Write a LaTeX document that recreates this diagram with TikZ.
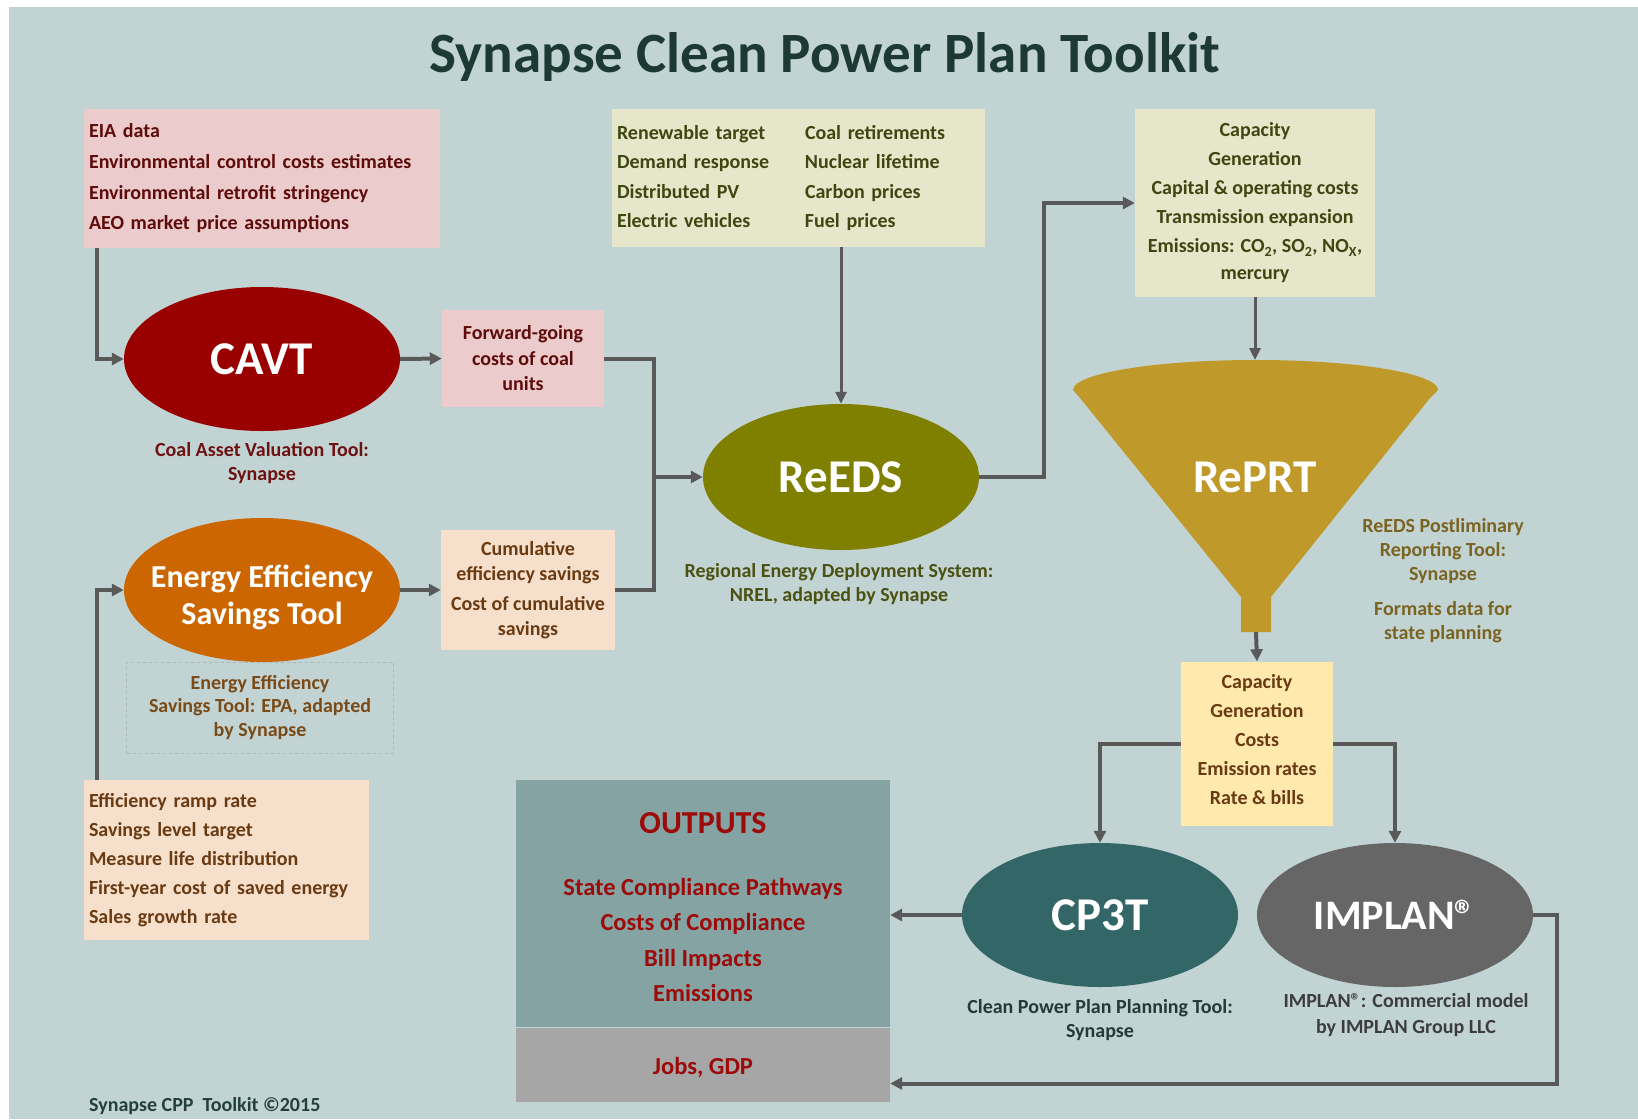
\documentclass[tikz,border=0pt]{standalone}
\usepackage{fontspec}
\setmainfont{Carlito}
\usetikzlibrary{shapes.geometric,arrows.meta}

\definecolor{bgcol}{HTML}{C2D3D3}
\definecolor{linegray}{HTML}{595959}
\definecolor{dashgray}{HTML}{A9B9B9}
\definecolor{pinkbox}{HTML}{EBCBCB}
\definecolor{peachbox}{HTML}{F6E0CB}
\definecolor{creambox}{HTML}{E6E6CB}
\definecolor{yellowbox}{HTML}{FFE9AD}
\definecolor{outteal}{HTML}{85A3A3}
\definecolor{outgray}{HTML}{A6A6A6}
\definecolor{cavtred}{HTML}{990000}
\definecolor{eeorange}{HTML}{CC6600}
\definecolor{reedsolive}{HTML}{808000}
\definecolor{funnelgold}{HTML}{BF9A2A}
\definecolor{cptteal}{HTML}{336666}
\definecolor{implangray}{HTML}{666666}
\definecolor{titlecol}{HTML}{1D3934}
\definecolor{maroontext}{HTML}{5E0B0B}
\definecolor{cavtcap}{HTML}{6E1111}
\definecolor{olivetext}{HTML}{3F4711}
\definecolor{browntext}{HTML}{6A3A12}
\definecolor{eecap}{HTML}{7A4A17}
\definecolor{reedscap}{HTML}{4B5112}
\definecolor{reprtcap}{HTML}{7A6422}
\definecolor{outred}{HTML}{9C0A0A}
\definecolor{cptcap}{HTML}{263838}
\definecolor{implancap}{HTML}{3C3C3C}
\definecolor{footcol}{HTML}{24403C}

\tikzset{
  flow/.style={draw=linegray, line width=4pt, -{Triangle[length=12pt,width=12pt]}},
  thinflow/.style={draw=linegray, line width=3pt, -{Triangle[length=12pt,width=11pt]}},
  link/.style={draw=linegray, line width=4pt},
  inbox/.style={rectangle, inner sep=5pt, align=center, font=\bfseries\fontsize{20}{29}\selectfont},
  tool/.style={ellipse, inner sep=0pt, minimum width=276pt, minimum height=144pt, text=white, font=\bfseries\fontsize{47}{50}\selectfont},
  caption/.style={align=center, inner sep=0pt, font=\bfseries\fontsize{20}{24}\selectfont}
}

\begin{document}
\begin{tikzpicture}[x=1pt,y=-1pt]
\useasboundingbox (0,0) rectangle (1638,1119);
\fill[white] (0,0) rectangle (1638,1119);
\fill[bgcol] (9,7) rectangle (1638,1119);

\node[font=\bfseries\fontsize{57}{60}\selectfont, text=titlecol, anchor=base] (title) at (825,72) {Synapse Clean Power Plan Toolkit};

% input boxes
\node[inbox, fill=pinkbox, text=maroontext, minimum height=139pt, text width=346pt, align=left, font=\bfseries\fontsize{20}{30.7}\selectfont] (eia) at (262,178.5) {EIA data\\Environmental control costs estimates\\Environmental retrofit stringency\\AEO market price assumptions};
\node[inbox, fill=pinkbox, text=maroontext, minimum width=162pt, minimum height=97pt, font=\bfseries\fontsize{20}{25.5}\selectfont] (fwd) at (523,358.5) {Forward-going\\costs of coal\\units};
\node[inbox, fill=peachbox, text=browntext, minimum width=174pt, minimum height=120pt, font=\bfseries\fontsize{20}{25}\selectfont] (cum) at (528,590) {Cumulative\\efficiency savings\\[5pt]Cost of cumulative\\savings};
\node[inbox, fill=peachbox, text=browntext, minimum height=160pt, text width=275pt, align=left] (ramp) at (226.5,860) {Efficiency ramp rate\\Savings level target\\Measure life distribution\\First-year cost of saved energy\\Sales growth rate};
\node[inbox, fill=creambox, text=olivetext, minimum height=138pt, text width=363pt, align=left, font=\bfseries\fontsize{20}{29.3}\selectfont] (ren) at (798.5,178) {\makebox[188pt][l]{Renewable target}Coal retirements\\\makebox[188pt][l]{Demand response}Nuclear lifetime\\\makebox[188pt][l]{Distributed PV}Carbon prices\\\makebox[188pt][l]{Electric vehicles}Fuel prices};
\node[inbox, fill=creambox, text=olivetext, minimum width=240pt, minimum height=188pt] (captop) at (1255,203) {Capacity\\Generation\\Capital \& operating costs\\Transmission expansion\\Emissions: CO\textsubscript{2}, SO\textsubscript{2}, NO\textsubscript{X},\\[-2pt]mercury};
\node[inbox, fill=yellowbox, text=browntext, minimum width=152pt, minimum height=164pt] (capbot) at (1257,743.5) {Capacity\\Generation\\Costs\\Emission rates\\Rate \& bills\\[-21pt]};

% tools
\node[tool, fill=cavtred] (cavt) at (262,359) {CAVT};
\node[tool, fill=eeorange] (eest) at (262,590) {};
\node[align=center, text=white, font=\bfseries\fontsize{32}{37}\selectfont] (eetext) at (262,597) {Energy Efficiency\\Savings Tool};
\node[tool, fill=reedsolive, minimum height=146pt] (reeds) at (841,477) {ReEDS};
\node[tool, fill=cptteal] (cpt) at (1100,915) {CP3T};
\node[tool, fill=implangray, font=\bfseries\fontsize{42}{46}\selectfont] (implan) at (1395,915) {IMPLAN®};

\fill[funnelgold] (1073,390) arc[start angle=180, end angle=360, x radius=182.5, y radius=30] -- (1430,398) -- (1271,597) -- (1271,632) -- (1241,632) -- (1241,597) -- (1080,398) -- cycle;
\node[text=white, font=\bfseries\fontsize{47}{50}\selectfont] (reprt) at (1255,477) {RePRT};
\coordinate (funtop) at (1255,360);
\coordinate (funbot) at (1256,632);

% captions
\node[caption, text=cavtcap] (cavtnote) at (262,463) {Coal Asset Valuation Tool:\\Synapse};
\node[caption, text=eecap, draw=dashgray, dashed, line width=0.6pt, minimum width=267pt, minimum height=91pt, font=\bfseries\fontsize{20}{23.5}\selectfont] (eenote) at (260,707.5) {Energy Efficiency\\Savings Tool: EPA, adapted\\by Synapse};
\node[caption, text=reedscap] (reedsnote) at (839,584.5) {Regional Energy Deployment System:\\NREL, adapted by Synapse};
\node[caption, text=reprtcap] (reprtnote) at (1443,551) {ReEDS Postliminary\\Reporting Tool:\\Synapse};
\node[caption, text=reprtcap] (reprtfmt) at (1443,622) {Formats data for\\state planning};
\node[caption, text=cptcap] (cptnote) at (1100,1020) {Clean Power Plan Planning Tool:\\Synapse};
\node[caption, text=implancap, font=\bfseries\fontsize{20}{26}\selectfont] (implannote) at (1406,1015) {IMPLAN®: Commercial model\\by IMPLAN Group LLC};

% outputs
\node[fill=outteal, minimum width=374pt, minimum height=247pt, inner sep=0pt] (outbox) at (703,903.5) {};
\node[fill=outgray, minimum width=374pt, minimum height=74pt, inner sep=0pt] (jobs) at (703,1064.5) {};
\node[text=outred, font=\bfseries\fontsize{24.5}{28}\selectfont] (jobstext) at (703,1068) {Jobs, GDP};
\node[text=outred, font=\bfseries\fontsize{32}{36}\selectfont] (outtitle) at (703,823) {OUTPUTS};
\node[align=center, text=outred, font=\bfseries\fontsize{24.5}{35.5}\selectfont] (outlist) at (703,940) {State Compliance Pathways\\Costs of Compliance\\Bill Impacts\\Emissions};

\node[font=\bfseries\fontsize{20}{24}\selectfont, text=footcol, anchor=base west, inner sep=0pt] (footer) at (89,1111) {Synapse CPP\ \ Toolkit ©2015};

% connectors
\draw[flow] ([xshift=13pt]eia.south west) |- (cavt.west);
\draw[flow] (cavt.east) -- (fwd.west);
\coordinate (join) at (654,477);
\draw[link] (fwd.east) -| (join);
\draw[link] (cum.east) -| (join);
\draw[flow] (join) -- (reeds.west);
\draw[flow] ([xshift=13pt]ramp.north west) |- (eest.west);
\draw[flow] (eest.east) -- (cum.west);
\draw[thinflow] (ren.south -| reeds.north) -- (reeds.north);
\draw[flow] (reeds.east) -- ++(65,0) |- (captop.west);
\draw[thinflow] (captop.south) -- (funtop);
\draw[flow] (funbot) -- (capbot.north);
\draw[flow] (capbot.west) -| (cpt.north);
\draw[flow] (capbot.east) -| (implan.north);
\draw[flow] (cpt.west) -- (cpt.west -| outbox.east);
\draw[flow] (implan.east) -- ++(24,0) |- ([yshift=-19pt]jobs.east);
\end{tikzpicture}
\end{document}
